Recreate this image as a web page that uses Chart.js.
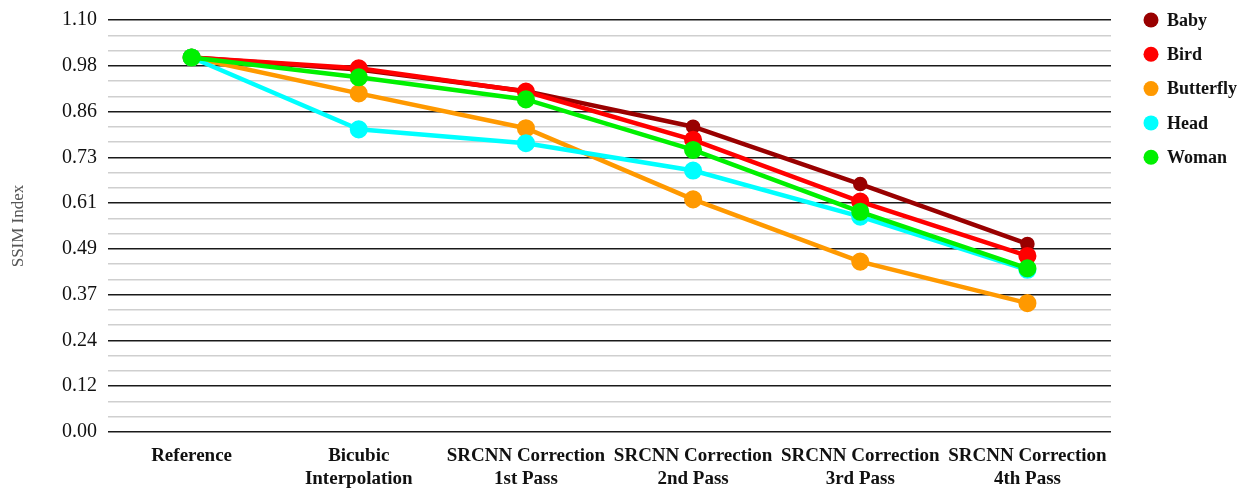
<!DOCTYPE html>
<html>
<head>
<meta charset="utf-8">
<script src="https://cdn.jsdelivr.net/npm/chart.js@4/dist/chart.umd.min.js"></script>
<style>
html,body{margin:0;padding:0;background:#fff;}
#wrap{width:1243px;height:498px;position:relative;}
</style>
</head>
<body>
<div id="wrap"><canvas id="c" width="1243" height="498"></canvas></div>
<script>
const categories = [["Reference"], ["Bicubic","Interpolation"], ["SRCNN Correction","1st Pass"], ["SRCNN Correction","2nd Pass"], ["SRCNN Correction","3rd Pass"], ["SRCNN Correction","4th Pass"]];
const baby      = [1.000, 0.968, 0.910, 0.815, 0.662, 0.502];
const bird      = [1.000, 0.971, 0.909, 0.780, 0.615, 0.470];
const butterfly = [1.000, 0.904, 0.811, 0.621, 0.455, 0.344];
const head      = [1.000, 0.808, 0.771, 0.698, 0.575, 0.433];
const woman     = [1.000, 0.947, 0.888, 0.753, 0.588, 0.437];
const seriesNames = ["Baby", "Bird", "Butterfly", "Head", "Woman"];
const seriesColors = ["#990000", "#ff0000", "#ff9900", "#00ffff", "#00f000"];
const yMax = 1.10;
const majorDivisions = 9;
const minorPerMajor = 3;

const seriesData = [baby, bird, butterfly, head, woman];
const datasets = seriesData.map((d, i) => ({
  label: seriesNames[i],
  data: d,
  borderColor: seriesColors[i],
  backgroundColor: seriesColors[i],
  pointBackgroundColor: seriesColors[i],
  pointBorderColor: seriesColors[i],
  borderWidth: 4.5,
  pointRadius: i === 0 ? 5 : 6.8,
  pointHoverRadius: i === 0 ? 5 : 6.8,
  tension: 0,
  order: 5 - i
}));

// Custom legend (right side, top-aligned with plot area)
const sideLegend = {
  id: 'sideLegend',
  afterDraw(chart) {
    const ctx = chart.ctx;
    const area = chart.chartArea;
    ctx.save();
    ctx.font = 'bold 18px "Liberation Serif"';
    ctx.textBaseline = 'middle';
    ctx.textAlign = 'left';
    chart.data.datasets.forEach((ds, i) => {
      const cy = area.top + i * 34.3;
      const cx = area.right + 40;
      ctx.beginPath();
      ctx.fillStyle = ds.borderColor;
      ctx.arc(cx, cy, 7.5, 0, Math.PI * 2);
      ctx.fill();
      ctx.fillStyle = '#111';
      ctx.fillText(ds.label, cx + 16, cy + 1);
    });
    ctx.restore();
  }
};

const nTicks = majorDivisions * minorPerMajor;
new Chart(document.getElementById('c'), {
  type: 'line',
  data: { labels: categories, datasets },
  plugins: [sideLegend],
  options: {
    responsive: false,
    animation: false,
    devicePixelRatio: 1,
    layout: { padding: { top: 20, right: 132, bottom: 0, left: 4 } },
    plugins: {
      tooltip: { enabled: false },
      legend: { display: false }
    },
    scales: {
      x: {
        offset: true,
        grid: { display: false, drawTicks: false },
        border: { display: false },
        afterFit: (s) => { s.height = 66; },
        ticks: {
          color: '#111',
          maxRotation: 0,
          autoSkip: false,
          padding: 13,
          font: { family: 'Liberation Serif', size: 19, weight: 'bold', lineHeight: 1.2 }
        }
      },
      y: {
        min: 0,
        max: yMax,
        afterBuildTicks: (scale) => {
          const t = [];
          for (let i = 0; i <= nTicks; i++) t.push({ value: i * yMax / nTicks });
          scale.ticks = t;
        },
        afterFit: (s) => { s.width = 104; s.paddingTop = 0; s.paddingBottom = 0; },
        border: { display: false },
        grid: {
          drawTicks: false,
          color: (ctx) => (ctx.index % minorPerMajor === 0 ? '#1a1a1a' : '#cfcfcf'),
          lineWidth: 1.5
        },
        ticks: {
          autoSkip: false,
          padding: 11,
          color: '#111',
          font: { family: 'Liberation Serif', size: 20 },
          callback: function (v, idx) {
            return idx % minorPerMajor === 0 ? (idx * yMax / nTicks).toFixed(2) : '';
          }
        },
        title: {
          display: true,
          text: 'SSIM Index',
          color: '#555',
          padding: { top: 4, bottom: 4 },
          font: { family: 'Liberation Serif', size: 17 }
        }
      }
    }
  }
});
</script>
</body>
</html>
